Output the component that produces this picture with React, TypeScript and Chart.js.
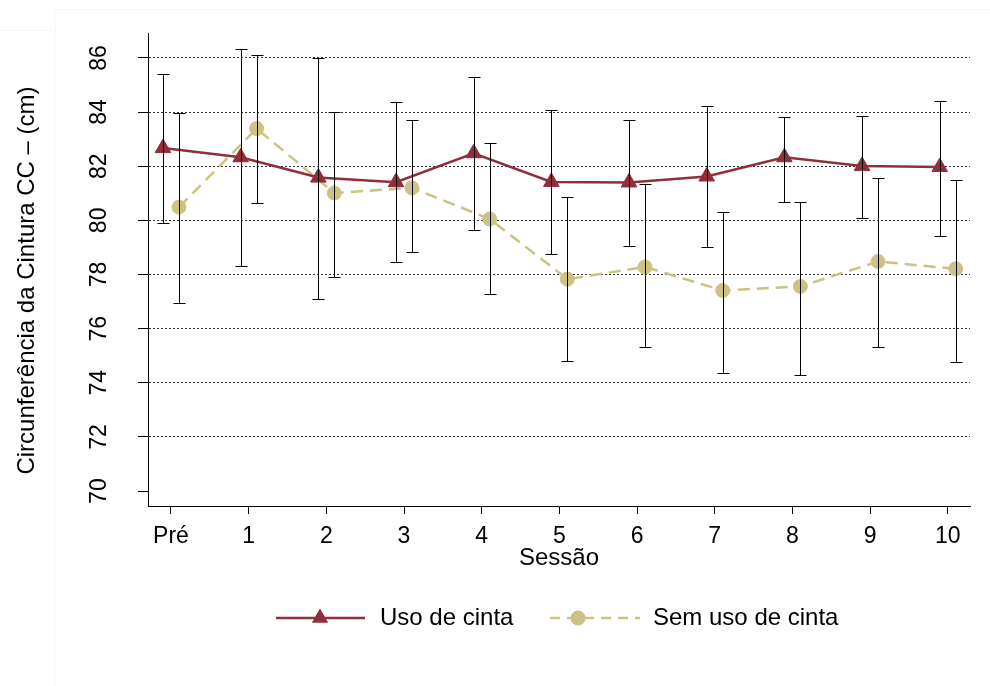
import React, { useEffect, useRef } from 'react';
import { Chart, registerables } from 'chart.js';

Chart.register(...registerables);

// ---- data ----
const categories = ['Pré', '1', '2', '3', '4', '5', '6', '7', '8', '9', '10'];
const yTickValues = [70, 72, 74, 76, 78, 80, 82, 84, 86];

const usoMean = [82.67, 82.33, 81.58, 81.41, 82.48, 81.42, 81.40, 81.62, 82.33, 82.01, 81.97];
const usoHigh = [85.42, 86.33, 86.01, 84.38, 85.30, 84.08, 83.70, 84.22, 83.80, 83.87, 84.41];
const usoLow = [79.90, 78.32, 77.11, 78.47, 79.64, 78.77, 79.07, 79.01, 80.68, 80.08, 79.44];

const semMean = [80.49, 83.39, 81.01, 81.20, 80.05, 77.83, 78.28, 77.41, 77.56, 78.48, 78.21];
const semHigh = [83.96, 86.12, 84.02, 83.70, 82.84, 80.86, 81.34, 80.30, 80.69, 81.58, 81.49];
const semLow = [76.94, 80.65, 77.91, 78.82, 77.27, 74.80, 75.34, 74.38, 74.29, 75.33, 74.77];

const seriesLabels = ['Uso de cinta', 'Sem uso de cinta'];
const yTitle = 'Circunferência da Cintura CC – (cm)';
const xTitle = 'Sessão';

// ---- styles ----
const RED = '#8E2F3A';
const TAN = '#CCC283';
const FONT = '"Liberation Sans", Arial, Helvetica, sans-serif';
const OFFSET = 0.103;
const TAN_DASH = [12, 7];

function drawTriangle(ctx: CanvasRenderingContext2D, x: number, y: number, r: number) {
  ctx.beginPath();
  const a = -Math.PI / 2;
  ctx.moveTo(x + r * Math.cos(a), y + r * Math.sin(a));
  ctx.lineTo(x + r * Math.cos(a + (2 * Math.PI) / 3), y + r * Math.sin(a + (2 * Math.PI) / 3));
  ctx.lineTo(x + r * Math.cos(a + (4 * Math.PI) / 3), y + r * Math.sin(a + (4 * Math.PI) / 3));
  ctx.closePath();
  ctx.fill();
}

export default function App() {
  const ref = useRef<HTMLCanvasElement>(null);

  useEffect(() => {
    document.body.style.margin = '0';
    const canvas = ref.current;
    if (!canvas) return;

    const errorBars = {
      id: 'errorBars',
      afterDatasetsDraw(chart: any) {
        const { ctx } = chart;
        const xs = chart.scales.x;
        const ys = chart.scales.y;
        const sets: [number[], number[], number][] = [
          [usoLow, usoHigh, -OFFSET],
          [semLow, semHigh, OFFSET],
        ];
        ctx.save();
        ctx.strokeStyle = '#000';
        ctx.lineWidth = 1;
        ctx.setLineDash([]);
        for (const [lo, hi, off] of sets) {
          for (let i = 0; i < lo.length; i++) {
            const px = Math.round(xs.getPixelForValue(i + off)) + 0.5;
            const y1 = Math.round(ys.getPixelForValue(lo[i])) + 0.5;
            const y2 = Math.round(ys.getPixelForValue(hi[i])) + 0.5;
            ctx.beginPath();
            ctx.moveTo(px, y1);
            ctx.lineTo(px, y2);
            ctx.moveTo(px - 6, y1);
            ctx.lineTo(px + 6, y1);
            ctx.moveTo(px - 6, y2);
            ctx.lineTo(px + 6, y2);
            ctx.stroke();
          }
        }
        ctx.restore();
      },
    };

    const decorations = {
      id: 'decorations',
      afterDraw(chart: any) {
        const { ctx, chartArea } = chart;
        const ys = chart.scales.y;
        ctx.save();
        // faint outer frame
        ctx.strokeStyle = '#f7f7f7';
        ctx.lineWidth = 1;
        ctx.beginPath();
        ctx.moveTo(55.5, 9.5);
        ctx.lineTo(990, 9.5);
        ctx.moveTo(55.5, 9.5);
        ctx.lineTo(55.5, 686);
        ctx.moveTo(0, 30.5);
        ctx.lineTo(55.5, 30.5);
        ctx.stroke();

        ctx.fillStyle = '#000';
        // y tick labels (rotated)
        ctx.font = `23px ${FONT}`;
        ctx.textAlign = 'center';
        ctx.textBaseline = 'middle';
        for (const v of yTickValues) {
          const py = ys.getPixelForValue(v);
          ctx.save();
          ctx.translate(99, py);
          ctx.rotate(-Math.PI / 2);
          ctx.fillText(String(v), 0, 1);
          ctx.restore();
        }
        // y title
        ctx.font = `24px ${FONT}`;
        ctx.save();
        ctx.translate(27, (chartArea.top + chartArea.bottom) / 2 + 11);
        ctx.rotate(-Math.PI / 2);
        ctx.fillText(yTitle, 0, 0);
        ctx.restore();
        // x title
        ctx.fillText(xTitle, (chartArea.left + chartArea.right) / 2, 558);

        // legend
        const ly = 618;
        ctx.strokeStyle = RED;
        ctx.lineWidth = 2.5;
        ctx.beginPath();
        ctx.moveTo(276, ly);
        ctx.lineTo(365, ly);
        ctx.stroke();
        ctx.fillStyle = RED;
        drawTriangle(ctx, 320, ly, 9.5);

        ctx.strokeStyle = TAN;
        ctx.setLineDash([10, 7]);
        ctx.beginPath();
        ctx.moveTo(550, ly);
        ctx.lineTo(640, ly);
        ctx.stroke();
        ctx.setLineDash([]);
        ctx.fillStyle = TAN;
        ctx.beginPath();
        ctx.arc(578, ly, 7.5, 0, Math.PI * 2);
        ctx.fill();

        ctx.fillStyle = '#000';
        ctx.font = `24px ${FONT}`;
        ctx.textAlign = 'left';
        ctx.fillText(seriesLabels[0], 380, ly);
        ctx.fillText(seriesLabels[1], 653, ly);
        ctx.restore();
      },
    };

    const chart = new Chart(canvas, {
      type: 'line',
      data: {
        datasets: [
          {
            label: seriesLabels[0],
            data: usoMean.map((v, i) => ({ x: i - OFFSET, y: v })),
            borderColor: RED,
            backgroundColor: RED,
            borderWidth: 2.5,
            pointStyle: 'triangle',
            pointRadius: 9,
            pointBorderWidth: 1,
            pointBorderColor: RED,
            pointBackgroundColor: RED,
            tension: 0,
          },
          {
            label: seriesLabels[1],
            data: semMean.map((v, i) => ({ x: i + OFFSET, y: v })),
            borderColor: TAN,
            backgroundColor: TAN,
            borderWidth: 2.5,
            borderDash: TAN_DASH,
            pointStyle: 'circle',
            pointRadius: 7,
            pointBorderWidth: 1,
            pointBorderColor: TAN,
            pointBackgroundColor: TAN,
            tension: 0,
          },
        ],
      },
      options: {
        responsive: false,
        animation: false,
        devicePixelRatio: 1,
        layout: { padding: { top: 33, right: 20, left: 0, bottom: 0 } },
        plugins: {
          legend: { display: false },
          tooltip: { enabled: false },
        },
        scales: {
          x: {
            type: 'linear',
            min: -0.296,
            max: 10.287,
            afterBuildTicks: (s: any) => {
              s.ticks = categories.map((_, i) => ({ value: i }));
            },
            afterFit: (s: any) => {
              s.height = 180;
            },
            ticks: {
              callback: (v: any) => categories[Math.round(Number(v))] ?? '',
              font: { family: FONT, size: 23 },
              color: '#000',
              padding: 9,
              maxRotation: 0,
              minRotation: 0,
              autoSkip: false,
            },
            grid: {
              drawOnChartArea: false,
              color: '#000',
              tickColor: '#000',
              tickLength: 8,
              tickWidth: 1,
            },
            border: { display: true, color: '#000', width: 1 },
          },
          y: {
            type: 'linear',
            min: 69.45,
            max: 86.92,
            afterBuildTicks: (s: any) => {
              s.ticks = yTickValues.map((v) => ({ value: v }));
            },
            afterFit: (s: any) => {
              s.width = 148;
            },
            ticks: { display: false },
            grid: {
              color: (c: any) => (c.tick && c.tick.value === 70 ? 'rgba(0,0,0,0)' : '#333'),
              lineWidth: 1,
              tickColor: '#000',
              tickLength: 10,
              tickWidth: 1,
              tickBorderDash: [],
            },
            border: { display: true, color: '#000', width: 1, dash: [2, 2] },
          },
        },
      },
      plugins: [errorBars, decorations],
    } as any);

    return () => chart.destroy();
  }, []);

  return (
    <div style={{ width: 990, height: 686, position: 'relative', background: '#fff' }}>
      <canvas ref={ref} width={990} height={686} style={{ display: 'block' }} />
    </div>
  );
}
